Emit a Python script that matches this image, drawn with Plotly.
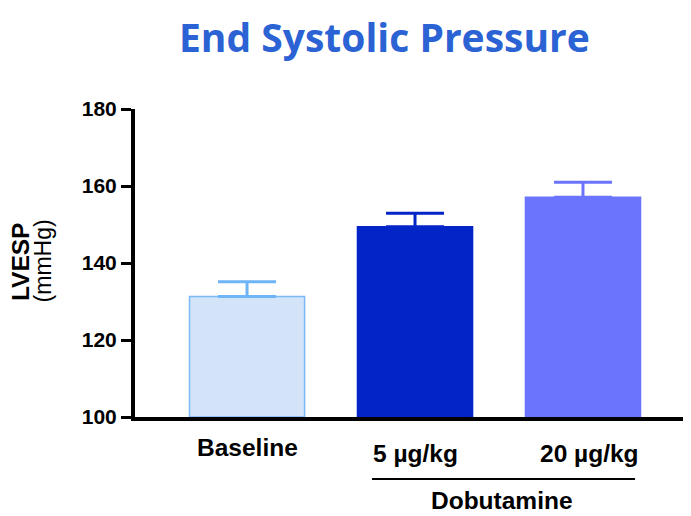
import plotly.graph_objects as go

categories = ["Baseline", "5 µg/kg", "20 µg/kg"]
means = [131.3, 149.4, 157.1]
sem_up = [3.8, 3.5, 3.9]
fill_colors = ["#D3E4F8", "#0325C8", "#6B74FC"]
line_colors = ["#7AB8F5", "#0325C8", "#6B74FC"]
err_colors = ["#6EB4F7", "#0325C8", "#6B74FC"]
y_ticks = [100, 120, 140, 160, 180]
group_label = "Dobutamine"

FONT = "Liberation Sans, Arial"

fig = go.Figure()
for i, c in enumerate(categories):
    fig.add_trace(go.Bar(
        x=[i], y=[means[i] - 100], base=100, width=0.685,
        marker=dict(color=fill_colors[i], line=dict(color=line_colors[i], width=1.5)),
        error_y=dict(type="data", symmetric=False, array=[sem_up[i]], arrayminus=[0],
                     color=err_colors[i], thickness=3, width=29),
        showlegend=False, hoverinfo="skip"))

label_dx = [0, 0, 0.036]
label_y = [-0.1, -0.117, -0.117]
for i, c in enumerate(categories):
    fig.add_annotation(x=i + label_dx[i], y=label_y[i], yref="paper", xref="x",
                       xanchor="center", yanchor="middle",
                       text=f"<b>{c}</b>", showarrow=False,
                       font=dict(family=FONT, size=24.5, color="black"))

fig.add_shape(type="line", xref="x", yref="paper", x0=0.744, x1=2.31, y0=-0.201, y1=-0.201,
              line=dict(color="black", width=2))
fig.add_annotation(x=1.52, y=-0.27, xref="x", yref="paper", xanchor="center", yanchor="middle",
                   text=f"<b>{group_label}</b>",
                   showarrow=False, font=dict(family=FONT, size=24.5, color="black"))

fig.add_annotation(x=-0.207, y=0.506, xref="paper", yref="paper", textangle=-90,
                   xanchor="center", yanchor="middle",
                   text="<b>LVESP</b>", showarrow=False,
                   font=dict(family=FONT, size=24.5, color="black"))
fig.add_annotation(x=-0.165, y=0.506, xref="paper", yref="paper", textangle=-90,
                   xanchor="center", yanchor="middle",
                   text="(mmHg)", showarrow=False,
                   font=dict(family=FONT, size=23, color="black"))

fig.add_annotation(x=0.448, y=1.237, xref="paper", yref="paper", xanchor="center", yanchor="middle",
                   text="<b>End Systolic Pressure</b>", showarrow=False,
                   font=dict(family="Open Sans, Liberation Sans, Arial", size=39, color="#2B62D4"))

fig.update_layout(
    width=691, height=516,
    margin=dict(l=127, r=8, t=101, b=107),
    plot_bgcolor="white", paper_bgcolor="white",
    xaxis=dict(range=[-0.667, 2.643], showticklabels=False, ticks="", showgrid=False,
               showline=True, linecolor="black", linewidth=4, zeroline=False),
    yaxis=dict(range=[100, 180], tickvals=y_ticks, ticks="outside", ticklen=10, tickwidth=3,
               tickcolor="black", showgrid=False, showline=True, linecolor="black", linewidth=4,
               zeroline=False,
               tickfont=dict(family=FONT, size=21, color="black", weight="bold")),
)
fig.write_html("out.html")
